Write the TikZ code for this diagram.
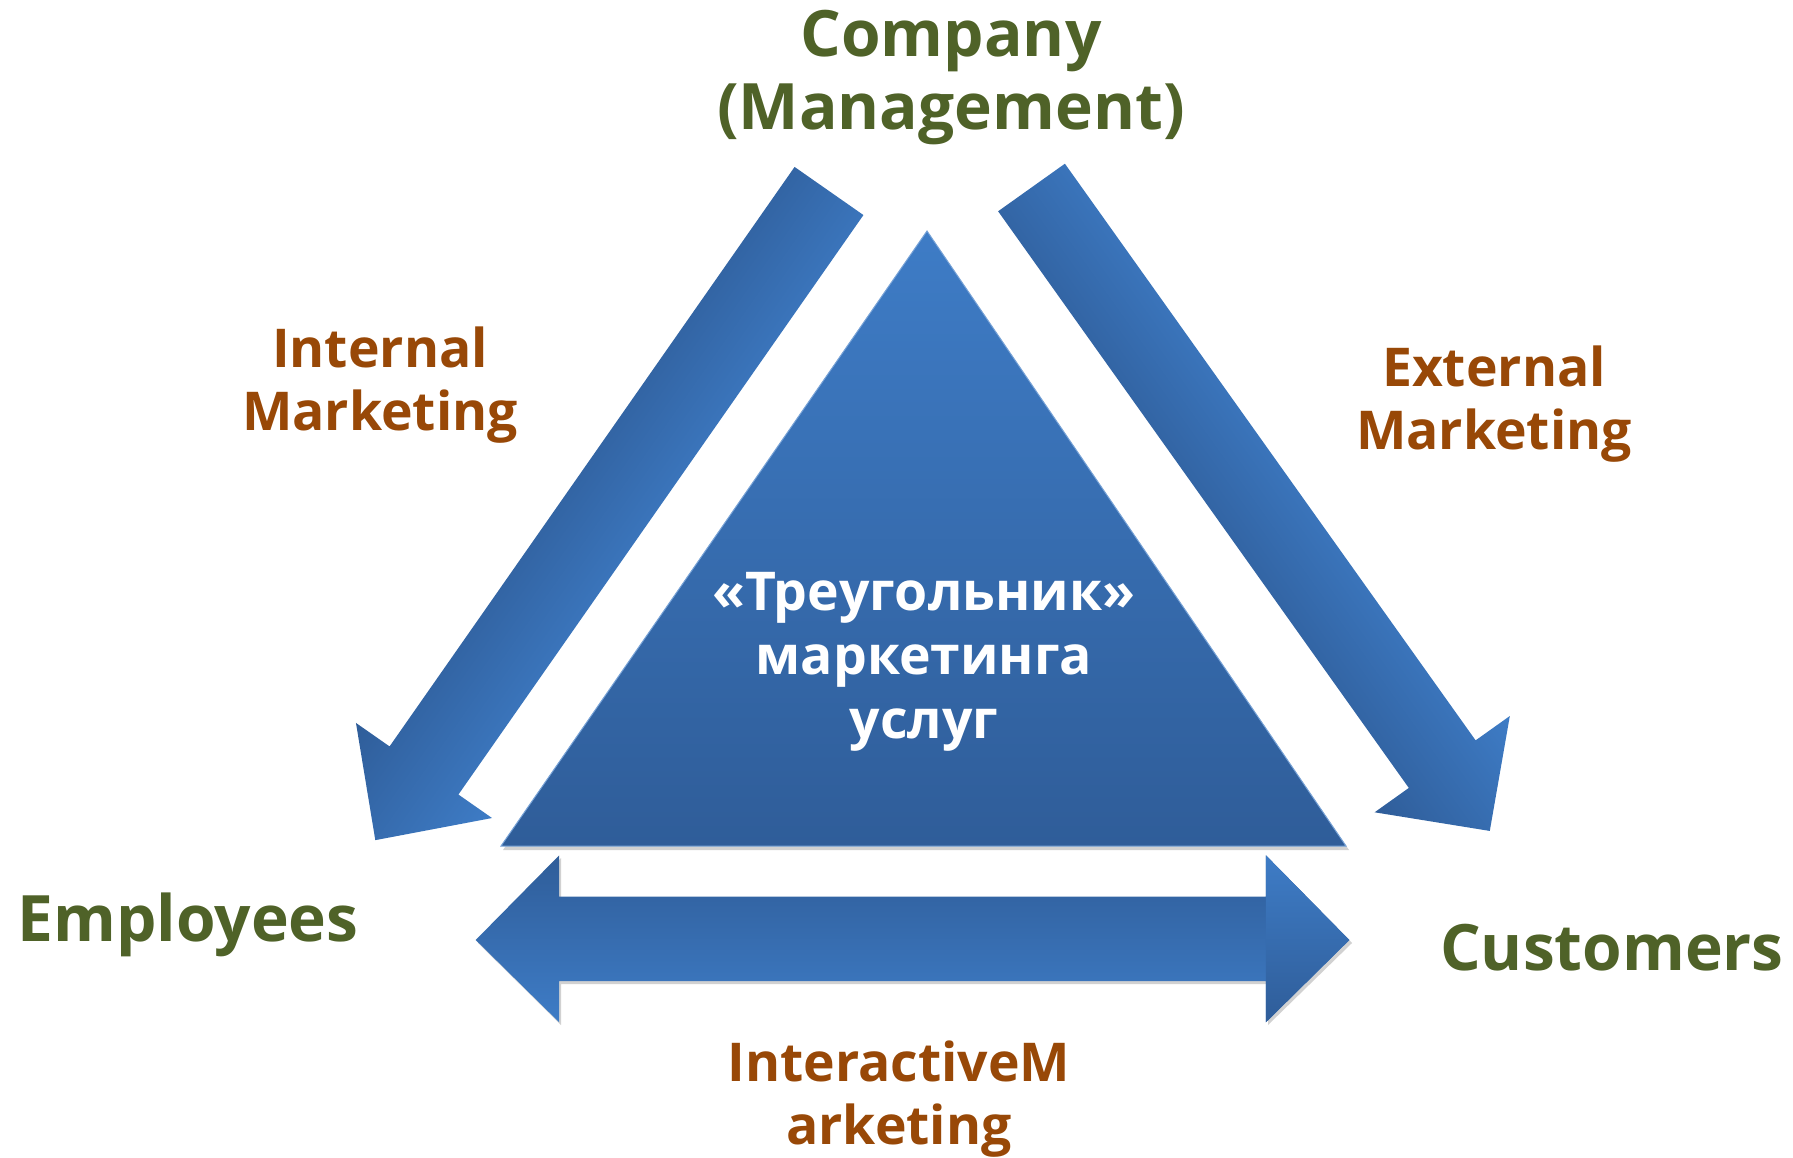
\documentclass[tikz,border=0pt]{standalone}
\usepackage{fontspec}
\setmainfont{Open Sans}
\definecolor{olivetxt}{HTML}{4F6228}
\definecolor{browntxt}{HTML}{984807}
\definecolor{bluelt}{HTML}{3E7CC6}
\definecolor{bluedk}{HTML}{2F5D99}
\tikzset{
  bigtxt/.style={text=olivetxt, font=\fontsize{64}{73}\selectfont\bfseries, align=center, inner sep=0pt},
  midtxt/.style={text=browntxt, font=\fontsize{53.5}{63}\selectfont\bfseries, align=center, inner sep=0pt},
  wtxt/.style={text=white, font=\fontsize{53.5}{64}\selectfont\bfseries, align=center, inner sep=0pt},
  arrowshade/.style={top color=bluelt, bottom color=bluedk},
  shadowfill/.style={fill=black, opacity=0.18},
}
\begin{document}
\begin{tikzpicture}[x=1pt,y=-1pt]
\useasboundingbox (0,0) rectangle (1793,1158);

% main triangle
\fill[shadowfill] (929,235) -- (1349,850) -- (503,850) -- cycle;
\shade[top color=bluelt, bottom color=bluedk, draw=bluelt!70!white, line width=1pt]
  (927,231) coordinate (apex) -- (1346,846) coordinate (bright) -- (501,846) coordinate (bleft) -- cycle;

% internal marketing arrow (Company -> Employees)
\shade[arrowshade, transform canvas={shift={(829,191)}, rotate=-124.95}]
  (0,-42) -- (707,-42) -- (707,-83) -- (792,0) -- (707,83) -- (707,42) -- (0,42) -- cycle;

% external marketing arrow (Company -> Customers)
\shade[arrowshade, transform canvas={shift={(1031.5,187.5)}, rotate=-54.54}]
  (0,-41) -- (708,-41) -- (708,-83) -- (790,0) -- (708,83) -- (708,41) -- (0,41) -- cycle;

% interactive marketing double arrow
\fill[shadowfill] (478,943) -- (561,858) -- (561,899) -- (1268,899) -- (1268,858) -- (1352,943)
  -- (1268,1025) -- (1268,984) -- (561,984) -- (561,1025) -- cycle;
\shade[top color=bluedk, bottom color=bluelt]
  (475.7,940) -- (559.2,855.3) -- (559.2,896.5) -- (1265.9,896.5) -- (1265.9,855.3) -- (1349.3,940)
  -- (1265.9,1022.3) -- (1265.9,981.1) -- (559.2,981.1) -- (559.2,1022.3) -- cycle;
\shade[top color=bluelt, bottom color=bluedk]
  (1265.9,855.3) -- (1349.3,940) -- (1265.9,1022.3) -- cycle;

% texts
\node[bigtxt] (company) at (951,78) {Company\\(Management)};
\node[bigtxt] (employees) at (188,925) {Employees};
\node[bigtxt] (customers) at (1612,948) {Customers};
\node[midtxt] (internal) at (380,385) {Internal\\Marketing};
\node[midtxt] (external) at (1494,404) {External\\Marketing};
\node[midtxt] (interactive) at (899,1099) {InteractiveM\\arketing};
\node[wtxt] (center) at (924,662) {«Треугольник»\\маркетинга\\услуг};
\end{tikzpicture}
\end{document}
